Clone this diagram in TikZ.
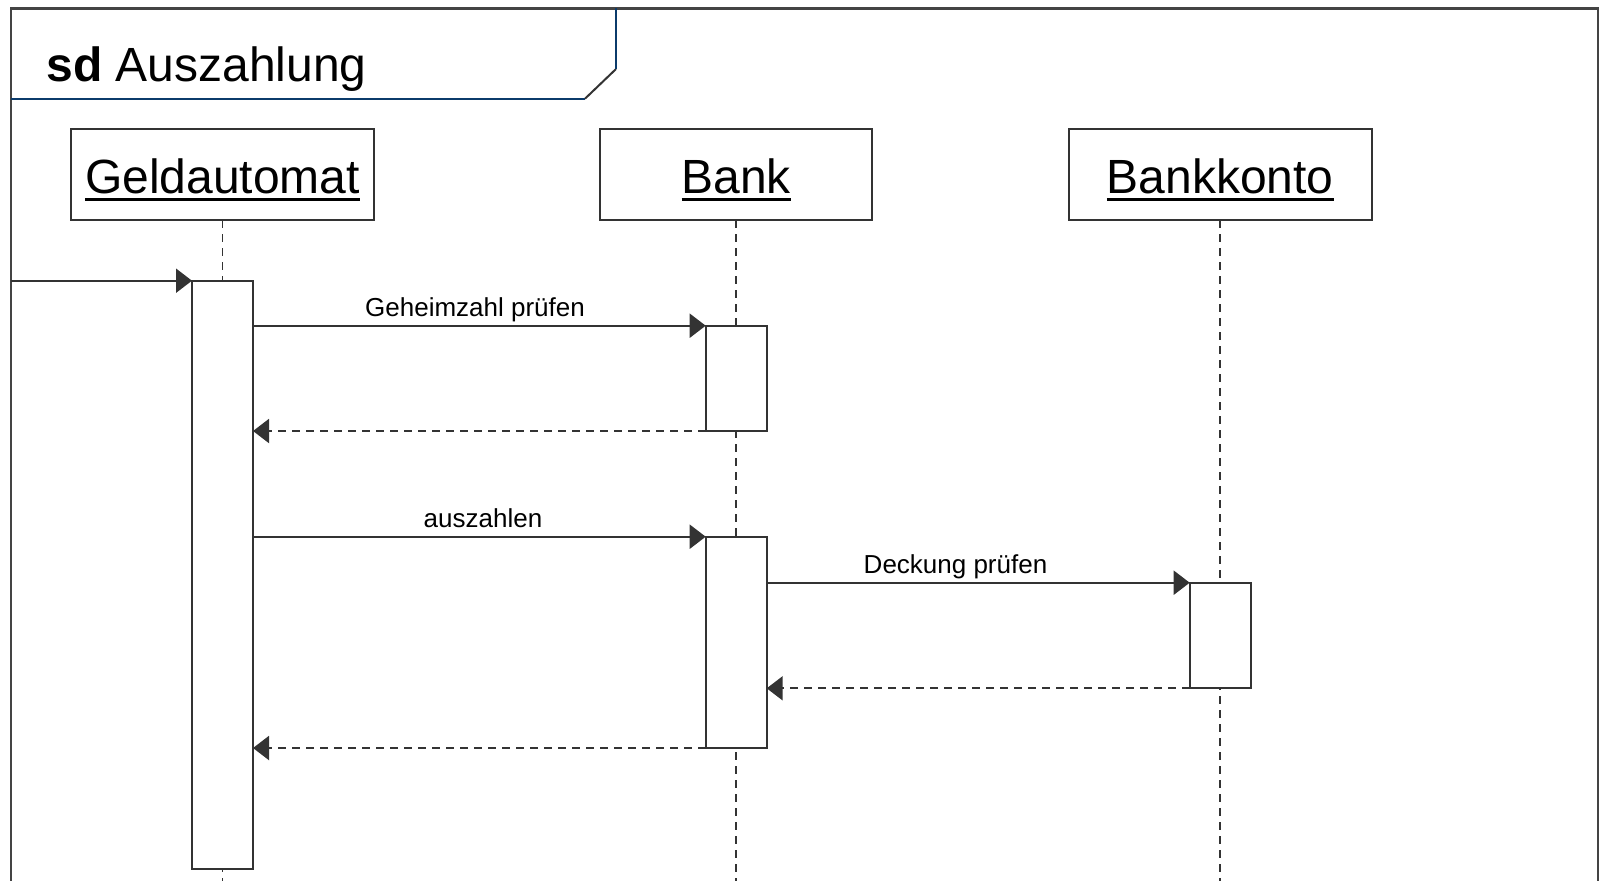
\documentclass[tikz,border=0pt]{standalone}
\usepackage{fontspec}
\setmainfont{Liberation Sans}
\usetikzlibrary{arrows.meta}
\definecolor{linegray}{HTML}{333333}
\definecolor{framegray}{HTML}{444444}
\definecolor{titleblue}{HTML}{0B3B6B}
% heavy underline for object names
\newcommand{\ulword}[1]{\setbox0\hbox{#1}\rlap{\vrule width \wd0 height -2.3pt depth 3.9pt}\box0}
\begin{document}
\begin{tikzpicture}[x=0.5pt,y=-0.5pt,
  head/.style={draw=linegray, line width=1pt, fill=white, inner sep=0, outer sep=0},
  act/.style={draw=linegray, line width=1pt, fill=white, minimum width=30.5pt, inner sep=0, outer sep=0, anchor=north},
  lifeline/.style={draw=linegray, line width=0.75pt, dash pattern=on 4pt off 3pt},
  msg/.style={draw=linegray, line width=1pt, -{Triangle[length=8pt,width=12pt]}},
  ret/.style={msg, dash pattern=on 4pt off 3pt},
  lbl/.style={font=\fontsize{13pt}{15pt}\selectfont, anchor=base, inner sep=0},
  headtext/.style={font=\fontsize{24pt}{28pt}\selectfont, anchor=base, inner sep=0}]
\useasboundingbox (0,0) rectangle (1600,880);

% outer frame (open at the bottom)
\draw[framegray, line width=1.2pt] (10.7,885) -- (10.7,8.3) -- (1597.7,8.3) -- (1597.7,885);
% name tab of the frame
\draw[titleblue, line width=1pt] (10.7,98.7) -- (585,98.7);
\draw[linegray, line width=1pt] (585,98.7) -- (616,69);
\draw[titleblue, line width=1pt] (616,69) -- (616,8.3);
\node[anchor=base west, inner sep=0, font=\fontsize{24pt}{28pt}\selectfont] (title) at (46,81) {\textbf{sd} Auszahlung};

% lifeline heads
\node[head, minimum width=151.25pt, minimum height=45.5pt] (ga) at (222.5,174.5) {};
\node[head, minimum width=136.25pt, minimum height=45.5pt] (bk) at (736.2,174.5) {};
\node[head, minimum width=151.5pt, minimum height=45.5pt] (kt) at (1220.2,174.5) {};

% lifelines
\coordinate (ga-end) at (222.5,885);
\coordinate (bk-end) at (736.2,885);
\coordinate (kt-end) at (1220.2,885);
\draw[lifeline] (ga.south) -- (ga-end);
\draw[lifeline] (bk.south) -- (bk-end);
\draw[lifeline] (kt.south) -- (kt-end);

% head captions
\node[headtext] (ga-t) at (222.5,193.5) {\ulword{Geldautomat}};
\node[headtext] (bk-t) at (736.2,193.5) {\ulword{Bank}};
\node[headtext] (kt-t) at (1220.2,193.5) {\ulword{Bankkonto}};

% activation bars
\node[act, minimum height=294pt] (ga-a) at (222.5,280.7) {};
\node[act, minimum height=52.65pt] (bk-a1) at (736.2,325.7) {};
\node[act, minimum height=105.65pt] (bk-a2) at (736.2,536.7) {};
\node[act, minimum height=52.8pt] (kt-a) at (1220.2,582.7) {};

% messages
\coordinate (found) at (10.7,280.7);
\draw[msg] (found) -- (ga-a.north west);
\draw[msg] (ga-a.east |- bk-a1.north) -- (bk-a1.north west);
\draw[ret] (bk-a1.south west) -- (ga-a.east |- bk-a1.south);
\draw[msg] (ga-a.east |- bk-a2.north) -- (bk-a2.north west);
\draw[msg] (bk-a2.east |- kt-a.north) -- (kt-a.north west);
\draw[ret] (kt-a.south west) -- (bk-a2.east |- kt-a.south);
\draw[ret] (bk-a2.south west) -- (ga-a.east |- bk-a2.south);

% message labels
\node[lbl] (m1) at (475,316.5) {Geheimzahl prüfen};
\node[lbl] (m2) at (483,527.5) {auszahlen};
\node[lbl] (m3) at (955.5,573.5) {Deckung prüfen};
\end{tikzpicture}
\end{document}
